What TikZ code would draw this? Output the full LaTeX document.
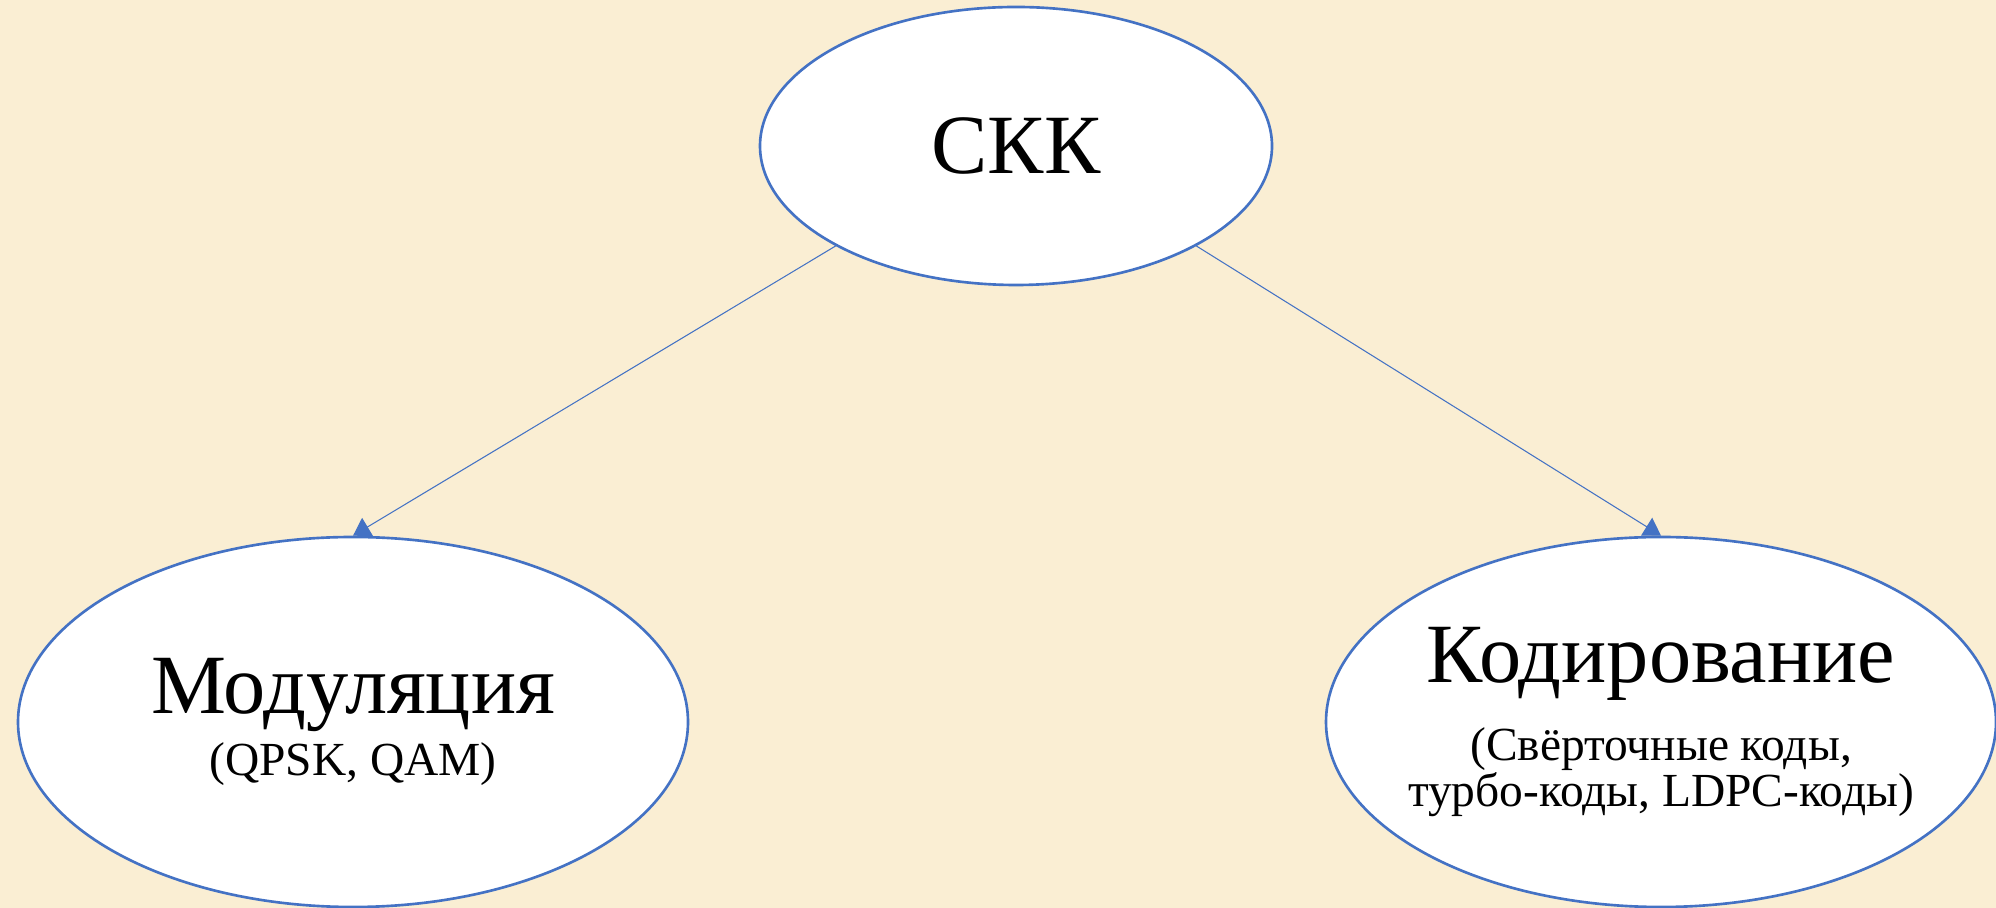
\documentclass[tikz,border=0pt]{standalone}
\usepackage{fontspec}
\setmainfont{Liberation Serif}
\usetikzlibrary{shapes.geometric,arrows.meta}
\definecolor{pageback}{RGB}{250,238,211}
\definecolor{lineblue}{RGB}{68,114,196}
\newcommand{\bigtxt}{\fontsize{48}{50}\selectfont}
\newcommand{\smalltxt}{\fontsize{27}{32}\selectfont}
\tikzset{
  treenode/.style = {align=center, inner sep=0pt, text centered, fill=white, draw=lineblue, line width=1.5pt},
  rootnode/.style = {treenode, ellipse, minimum width=10.24cm, minimum height=5.56cm},
  leafnode/.style = {treenode, ellipse, inner xsep=-0.6cm, minimum width=13.4cm, minimum height=7.4cm, xshift=-0.18cm},
  level/.style = {sibling distance=26.16cm, level distance=11.52cm},
  edge from parent/.style = {draw=lineblue, line width=0.6pt, -{Triangle[width=0.42cm, length=0.34cm]}},
}

\begin{document}
\begin{tikzpicture}
\fill[pageback] (0,0) rectangle (39.92,18.16);
\useasboundingbox (0,0) rectangle (39.92,18.16);
\node [rootnode] (SKK) at (20.32,15.24) {\bigtxt СКК}
  child[edge from parent path={(\tikzparentnode.209) -- (\tikzchildnode.north)}]{
    node [leafnode] (Mod) {\bigtxt Модуляция\\[5pt] \smalltxt (QPSK, QAM)}
  }
  child[edge from parent path={(\tikzparentnode.331) -- (\tikzchildnode.north)}]{
    node [leafnode] (Cod) {\bigtxt Кодирование\\[14pt] \smalltxt (Свёрточные коды,\\ \smalltxt турбо-коды, LDPC-коды)}
  }
;
\end{tikzpicture}
\end{document}
